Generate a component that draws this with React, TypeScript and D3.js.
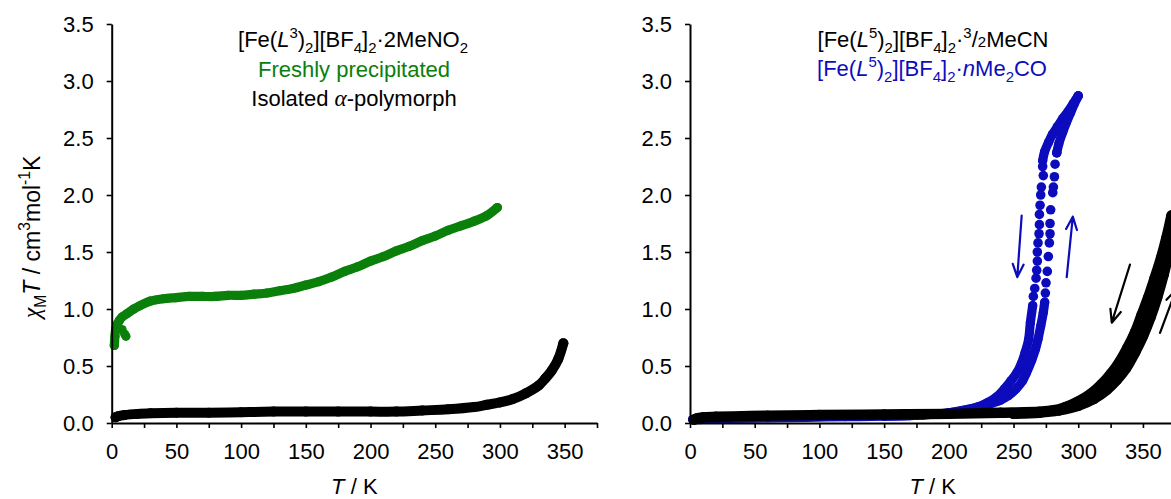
import React, { useRef, useEffect } from 'react';
import * as d3 from 'd3';

// ---- axes ----
const xTicks = [0, 25, 50, 75, 100, 125, 150, 175, 200, 225, 250, 275, 300, 325, 350, 375];
const yTicks = [0, 0.5, 1, 1.5, 2, 2.5, 3, 3.5];

// ---- left panel: [Fe(L3)2][BF4]2·2MeNO2 ----
const freshT = [2, 2.5, 3, 4, 6, 8, 12, 17, 22, 30, 40, 50, 60, 70, 80, 90, 100, 110, 120, 130, 140, 150, 160, 170, 180, 190, 200, 210, 220, 230, 240, 250, 260, 270, 280, 290, 298];
const freshChi = [0.68, 0.76, 0.82, 0.86, 0.9, 0.93, 0.96, 1.0, 1.03, 1.07, 1.09, 1.1, 1.11, 1.11, 1.11, 1.12, 1.12, 1.13, 1.14, 1.16, 1.18, 1.21, 1.24, 1.28, 1.33, 1.37, 1.42, 1.46, 1.51, 1.55, 1.6, 1.64, 1.69, 1.73, 1.77, 1.82, 1.89];
const freshTailT = [8, 10, 11];
const freshTailChi = [0.82, 0.78, 0.76];

const alphaT = [3, 5, 10, 20, 30, 50, 75, 100, 125, 150, 175, 200, 220, 240, 260, 280, 290, 300, 310, 320, 330, 335, 340, 345, 349];
const alphaChi = [0.05, 0.06, 0.07, 0.08, 0.085, 0.09, 0.09, 0.095, 0.1, 0.1, 0.1, 0.1, 0.1, 0.11, 0.12, 0.14, 0.16, 0.18, 0.21, 0.26, 0.33, 0.39, 0.46, 0.56, 0.7];

// ---- right panel: [Fe(L5)2][BF4]2·3/2MeCN ----
const mecnCoolT = [3, 5, 10, 20, 40, 60, 100, 150, 200, 240, 270, 280, 290, 300, 310, 318, 325, 332, 338, 344, 349, 354, 359, 364, 368, 372];
const mecnCoolChi = [0.03, 0.04, 0.05, 0.055, 0.06, 0.065, 0.07, 0.075, 0.08, 0.09, 0.1, 0.11, 0.14, 0.19, 0.26, 0.34, 0.43, 0.54, 0.66, 0.8, 0.95, 1.1, 1.27, 1.45, 1.62, 1.82];
const mecnWarmT = [250, 270, 285, 300, 312, 322, 330, 337, 344, 350, 356, 361, 366, 370, 374];
const mecnWarmChi = [0.08, 0.09, 0.11, 0.15, 0.21, 0.29, 0.38, 0.48, 0.62, 0.76, 0.93, 1.1, 1.3, 1.5, 1.8];

// ---- right panel: [Fe(L5)2][BF4]2·nMe2CO ----
const acetCoolLowT = [2, 5, 15, 30, 60, 90, 120, 150, 170, 185, 200, 212, 222, 230, 237, 243, 248, 252.5, 256, 259, 261.6, 263, 264.8];
const acetCoolLowChi = [0.03, 0.03, 0.035, 0.04, 0.045, 0.05, 0.055, 0.06, 0.065, 0.075, 0.09, 0.11, 0.14, 0.18, 0.23, 0.3, 0.37, 0.44, 0.52, 0.62, 0.73, 0.88, 1.03];
const acetCoolJumpT = [265.3, 266.4, 267.4, 267.9, 268.4, 268.4, 268.9, 269.7, 270, 270, 270.5, 271, 271.5, 273, 272.5];
const acetCoolJumpChi = [1.11, 1.18, 1.27, 1.34, 1.42, 1.5, 1.58, 1.66, 1.74, 1.83, 1.91, 2.0, 2.07, 2.17, 2.25];
const acetCoolHighT = [272.5, 274, 277, 280, 284, 288, 292, 296, 300];
const acetCoolHighChi = [2.3, 2.38, 2.46, 2.53, 2.6, 2.67, 2.73, 2.8, 2.87];

const acetWarmLowT = [150, 180, 200, 215, 230, 240, 246, 252, 257, 260, 264, 267, 269, 271, 273, 274.1];
const acetWarmLowChi = [0.06, 0.07, 0.09, 0.12, 0.16, 0.2, 0.24, 0.3, 0.37, 0.44, 0.55, 0.65, 0.74, 0.85, 0.97, 1.06];
const acetWarmJumpT = [274.6, 275.1, 276.1, 276.9, 277.7, 278.2, 278.2, 278.7, 280.3, 280.8, 281.6, 282.1, 283.4];
const acetWarmJumpChi = [1.14, 1.23, 1.33, 1.46, 1.58, 1.66, 1.75, 1.87, 2.02, 2.07, 2.16, 2.27, 2.37];
const acetWarmHighT = [283.4, 285, 288, 291, 294, 297, 300];
const acetWarmHighChi = [2.37, 2.45, 2.55, 2.64, 2.72, 2.8, 2.87];

// arrows [T, chiT] tail -> head
const acetCoolArrow = [[256.3, 1.82], [252.9, 1.28]];
const acetWarmArrow = [[291.1, 1.28], [295.8, 1.81]];
const mecnCoolArrow = [[340, 1.39], [325.9, 0.88]];
const mecnWarmArrow = [[363.2, 0.79], [375.6, 1.17]];

const GREEN = '#0a800a';
const BLUE = '#0c0cbc';
const SANS = '"Liberation Sans", Arial, sans-serif';
const SERIF = '"Liberation Serif", "Times New Roman", serif';
const FS = 22;

// segments: [text, kind]  kind: '' | 'i' | 'g' | 'sub' | 'sup' | 'small'
const richText = (parent, x, y, segs, color, size = FS) => {
  const t = parent.append('text')
    .attr('x', x).attr('y', y)
    .attr('text-anchor', 'middle')
    .attr('font-family', SANS)
    .attr('font-size', size)
    .attr('fill', color);
  let cur = 0;
  segs.forEach(([s, k]) => {
    let target = 0;
    if (k === 'sub') target = size * 0.28;
    if (k === 'sup') target = -size * 0.42;
    const sp = t.append('tspan').attr('dy', target - cur).text(s);
    cur = target;
    if (k === 'sub' || k === 'sup' || k === 'small') sp.attr('font-size', size * 0.68);
    if (k === 'i') sp.attr('font-style', 'italic');
    if (k === 'g') sp.attr('font-style', 'italic').attr('font-family', SERIF).attr('font-size', size * 1.05);
  });
  return t;
};

export default function App() {
  const svgRef = useRef(null);

  useEffect(() => {
    const svg = d3.select(svgRef.current);
    svg.selectAll('*').remove();

    const y = d3.scaleLinear().domain([0, 3.5]).range([423, 24]);

    const band = (g, x, T, chi, color, r) => {
      const pts = T.map((t, i) => [x(t), y(chi[i])]);
      g.append('path')
        .attr('d', d3.line().curve(d3.curveCatmullRom.alpha(0.5))(pts))
        .attr('fill', 'none')
        .attr('stroke', color)
        .attr('stroke-width', 2 * r)
        .attr('stroke-linecap', 'round')
        .attr('stroke-linejoin', 'round');
      g.selectAll(null).data(pts).join('circle')
        .attr('cx', d => d[0]).attr('cy', d => d[1]).attr('r', r).attr('fill', color);
    };
    const dots = (g, x, T, chi, color, r) => {
      g.selectAll(null).data(T.map((t, i) => [x(t), y(chi[i])])).join('circle')
        .attr('cx', d => d[0]).attr('cy', d => d[1]).attr('r', r).attr('fill', color);
    };
    const arrow = (g, x, a, color) => {
      const [x1, y1] = [x(a[0][0]), y(a[0][1])];
      const [x2, y2] = [x(a[1][0]), y(a[1][1])];
      const ang = Math.atan2(y2 - y1, x2 - x1);
      const L = 14, w = 0.4;
      const h1 = [x2 - L * Math.cos(ang - w), y2 - L * Math.sin(ang - w)];
      const h2 = [x2 - L * Math.cos(ang + w), y2 - L * Math.sin(ang + w)];
      g.append('path')
        .attr('d', `M${x1},${y1}L${x2},${y2}M${h1[0]},${h1[1]}L${x2},${y2}L${h2[0]},${h2[1]}`)
        .attr('fill', 'none').attr('stroke', color).attr('stroke-width', 2.2)
        .attr('stroke-linecap', 'round').attr('stroke-linejoin', 'round');
    };
    const axes = (g, x) => {
      const ax = g.append('g').attr('transform', 'translate(0,423)')
        .call(d3.axisBottom(x).tickValues(xTicks).tickSize(5).tickSizeOuter(0).tickPadding(15)
          .tickFormat(d => (d % 50 === 0 ? String(d) : '')));
      const ay = g.append('g').attr('transform', `translate(${x(0)},0)`)
        .call(d3.axisLeft(y).tickValues(yTicks).tickSize(5).tickSizeOuter(0).tickPadding(13)
          .tickFormat(d3.format('.1f')));
      [ax, ay].forEach(a => {
        a.attr('font-family', SANS).attr('font-size', FS);
        a.select('.domain').attr('stroke', '#000').attr('stroke-width', 2);
        a.selectAll('.tick line').attr('stroke', '#000').attr('stroke-width', 1.6);
        a.selectAll('.tick text').attr('fill', '#000');
      });
      g.append('text')
        .attr('x', (x(0) + x(375)) / 2).attr('y', 494)
        .attr('text-anchor', 'middle').attr('font-family', SANS).attr('font-size', FS)
        .call(t => {
          t.append('tspan').attr('font-style', 'italic').text('T');
          t.append('tspan').text(' / K');
        });
    };

    // left panel
    const xl = d3.scaleLinear().domain([0, 375]).range([111.7, 597]);
    const gl = svg.append('g');
    band(gl, xl, alphaT, alphaChi, '#000', 5);
    band(gl, xl, freshT, freshChi, GREEN, 4.6);
    dots(gl, xl, freshTailT, freshTailChi, GREEN, 4.6);
    axes(gl, xl);
    richText(gl, 353, 47, [['[Fe(', ''], ['L', 'i'], ['3', 'sup'], [')', ''], ['2', 'sub'], ['][BF', ''], ['4', 'sub'], [']', ''], ['2', 'sub'], ['\u00b72MeNO', ''], ['2', 'sub']], '#000');
    richText(gl, 354, 77, [['Freshly precipitated', '']], GREEN);
    richText(gl, 354, 106, [['Isolated ', ''], ['\u03b1', 'g'], ['-polymorph', '']], '#000');

    const yt = gl.append('g').attr('transform', 'translate(40,237) rotate(-90)');
    richText(yt, 0, 0, [['\u03c7', 'g'], ['M', 'sub'], ['T', 'i'], [' / cm', ''], ['3', 'sup'], ['mol', ''], ['-1', 'sup'], ['K', '']], '#000', 23);

    // right panel
    const xr = d3.scaleLinear().domain([0, 375]).range([690, 1175.3]);
    const gr = svg.append('g');
    band(gr, xr, acetCoolLowT, acetCoolLowChi, BLUE, 4.6);
    band(gr, xr, acetWarmLowT, acetWarmLowChi, BLUE, 4.6);
    dots(gr, xr, acetCoolJumpT, acetCoolJumpChi, BLUE, 4.8);
    dots(gr, xr, acetWarmJumpT, acetWarmJumpChi, BLUE, 4.8);
    band(gr, xr, acetCoolHighT, acetCoolHighChi, BLUE, 4.6);
    band(gr, xr, acetWarmHighT, acetWarmHighChi, BLUE, 4.6);
    band(gr, xr, mecnCoolT, mecnCoolChi, '#000', 5.2);
    band(gr, xr, mecnWarmT, mecnWarmChi, '#000', 5.2);
    arrow(gr, xr, acetCoolArrow, BLUE);
    arrow(gr, xr, acetWarmArrow, BLUE);
    arrow(gr, xr, mecnCoolArrow, '#000');
    arrow(gr, xr, mecnWarmArrow, '#000');
    axes(gr, xr);
    richText(gr, 933, 47, [['[Fe(', ''], ['L', 'i'], ['5', 'sup'], [')', ''], ['2', 'sub'], ['][BF', ''], ['4', 'sub'], [']', ''], ['2', 'sub'], ['\u00b7', ''], ['3', 'sup'], ['/', ''], ['2', 'small'], ['MeCN', '']], '#000');
    richText(gr, 932, 76, [['[Fe(', ''], ['L', 'i'], ['5', 'sup'], [')', ''], ['2', 'sub'], ['][BF', ''], ['4', 'sub'], [']', ''], ['2', 'sub'], ['\u00b7', ''], ['n', 'i'], ['Me', ''], ['2', 'sub'], ['CO', '']], BLUE);
  }, []);

  return (
    <svg
      ref={svgRef}
      width={1171}
      height={499}
      style={{ position: 'absolute', left: 0, top: 0, background: '#fff', display: 'block' }}
    />
  );
}
